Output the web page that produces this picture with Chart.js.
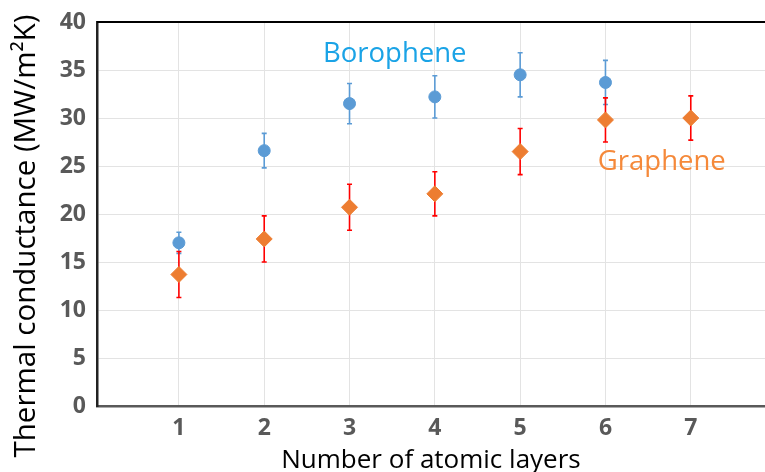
<!DOCTYPE html>
<html>
<head>
<meta charset="utf-8">
<script src="https://cdn.jsdelivr.net/npm/chart.js@4"></script>
<style>
  html, body { margin: 0; padding: 0; background: #fff; overflow: hidden; }
</style>
</head>
<body>
<canvas id="chart" width="765" height="472"></canvas>
<script>
// data
const layers = [1, 2, 3, 4, 5, 6, 7];
const xTicks = [1, 2, 3, 4, 5, 6, 7];
const yTicks = [0, 5, 10, 15, 20, 25, 30, 35, 40];

const boroValues = [17.0, 26.6, 31.5, 32.2, 34.5, 33.7];
const boroErr    = [1.1, 1.8, 2.1, 2.2, 2.3, 2.3];

const grapValues = [13.7, 17.4, 20.7, 22.1, 26.5, 29.8, 30.0];
const grapErr    = [2.4, 2.4, 2.4, 2.3, 2.4, 2.3, 2.3];

const FONT = '"Open Sans", Lato, sans-serif';
const Y_TITLE = 'Thermal conductance (MW/m\u00B2K)';

// error bars drawn through the scales
const errorBars = {
    id: 'errorBars',
    beforeDatasetsDraw(chart) {
        const ctx = chart.ctx;
        const xs = chart.scales.x, ys = chart.scales.y;
        chart.data.datasets.forEach(ds => {
            ctx.save();
            ctx.strokeStyle = ds.errColor;
            ctx.lineWidth = 1.6;
            ds.data.forEach((p, i) => {
                const e = ds.err[i];
                const px = xs.getPixelForValue(p.x);
                const top = ys.getPixelForValue(p.y + e);
                const bot = ys.getPixelForValue(p.y - e);
                ctx.beginPath();
                ctx.moveTo(px, top); ctx.lineTo(px, bot);
                ctx.moveTo(px - 2.5, top); ctx.lineTo(px + 2.5, top);
                ctx.moveTo(px - 2.5, bot); ctx.lineTo(px + 2.5, bot);
                ctx.stroke();
            });
            ctx.restore();
        });
    }
};

// series names inside the plot, y title, top frame line
const extras = {
    id: 'extras',
    afterDraw(chart) {
        const ctx = chart.ctx;
        const xs = chart.scales.x, ys = chart.scales.y;
        const a = chart.chartArea;
        ctx.save();
        ctx.font = '27.5px ' + FONT;
        ctx.textAlign = 'center';
        ctx.textBaseline = 'middle';
        ctx.fillStyle = '#1AA3E6';
        ctx.fillText('Borophene', xs.getPixelForValue(3.53), ys.getPixelForValue(36.6));
        ctx.fillStyle = '#F5893A';
        ctx.fillText('Graphene', xs.getPixelForValue(6.66), ys.getPixelForValue(25.4));

        // y axis title, centred on the whole picture height like the original
        ctx.save();
        ctx.translate(27, chart.height / 2);
        ctx.rotate(-Math.PI / 2);
        ctx.font = '29.5px ' + FONT;
        ctx.fillStyle = '#000';
        ctx.fillText(Y_TITLE, 0, 0);
        ctx.restore();

        ctx.strokeStyle = '#000';
        ctx.lineWidth = 2;
        ctx.beginPath();
        ctx.moveTo(a.left, a.top); ctx.lineTo(a.right, a.top);
        ctx.stroke();
        ctx.restore();
    }
};

new Chart(document.getElementById('chart'), {
    type: 'scatter',
    data: {
        datasets: [
            {
                label: 'Borophene',
                data: boroValues.map((v, i) => ({ x: layers[i], y: v })),
                err: boroErr,
                errColor: '#5B9BD5',
                backgroundColor: '#5B9BD5',
                borderColor: '#5B9BD5',
                pointStyle: 'circle',
                pointRadius: 6,
                pointHoverRadius: 6
            },
            {
                label: 'Graphene',
                data: grapValues.map((v, i) => ({ x: layers[i], y: v })),
                err: grapErr,
                errColor: '#FF0000',
                backgroundColor: '#ED7D31',
                borderColor: '#ED7D31',
                pointStyle: 'rectRot',
                pointRadius: 8,
                pointHoverRadius: 8
            }
        ]
    },
    options: {
        responsive: false,
        animation: false,
        devicePixelRatio: 1,
        layout: { autoPadding: false, padding: { top: 22, right: 0, left: 0, bottom: 0 } },
        plugins: {
            legend: { display: false },
            tooltip: { enabled: false }
        },
        scales: {
            x: {
                type: 'linear',
                min: 0.04,
                max: 7.87,
                afterBuildTicks: s => { s.ticks = xTicks.map(v => ({ value: v })); },
                afterFit: s => { s.height = 66; s.paddingLeft = 0; s.paddingRight = 0; },
                grid: { color: '#E3E3E3', lineWidth: 1, drawTicks: false },
                border: { color: '#595959', width: 2.5 },
                ticks: {
                    padding: 9,
                    color: '#595959',
                    font: { family: FONT, size: 23, weight: 'bold' }
                },
                title: {
                    display: true,
                    text: 'Number of atomic layers',
                    color: '#000',
                    font: { family: FONT, size: 26, lineHeight: 0.85 },
                    padding: { top: 0, bottom: 0 }
                }
            },
            y: {
                min: 0,
                max: 40,
                afterBuildTicks: s => { s.ticks = yTicks.map(v => ({ value: v })); },
                afterFit: s => { s.width = 97; s.paddingTop = 0; s.paddingBottom = 0; },
                grid: { color: '#E3E3E3', lineWidth: 1, drawTicks: false },
                border: { color: '#222', width: 2.5 },
                ticks: {
                    padding: 11,
                    color: '#595959',
                    font: { family: FONT, size: 23, weight: 'bold' }
                }
            }
        }
    },
    plugins: [errorBars, extras]
});
</script>
</body>
</html>
